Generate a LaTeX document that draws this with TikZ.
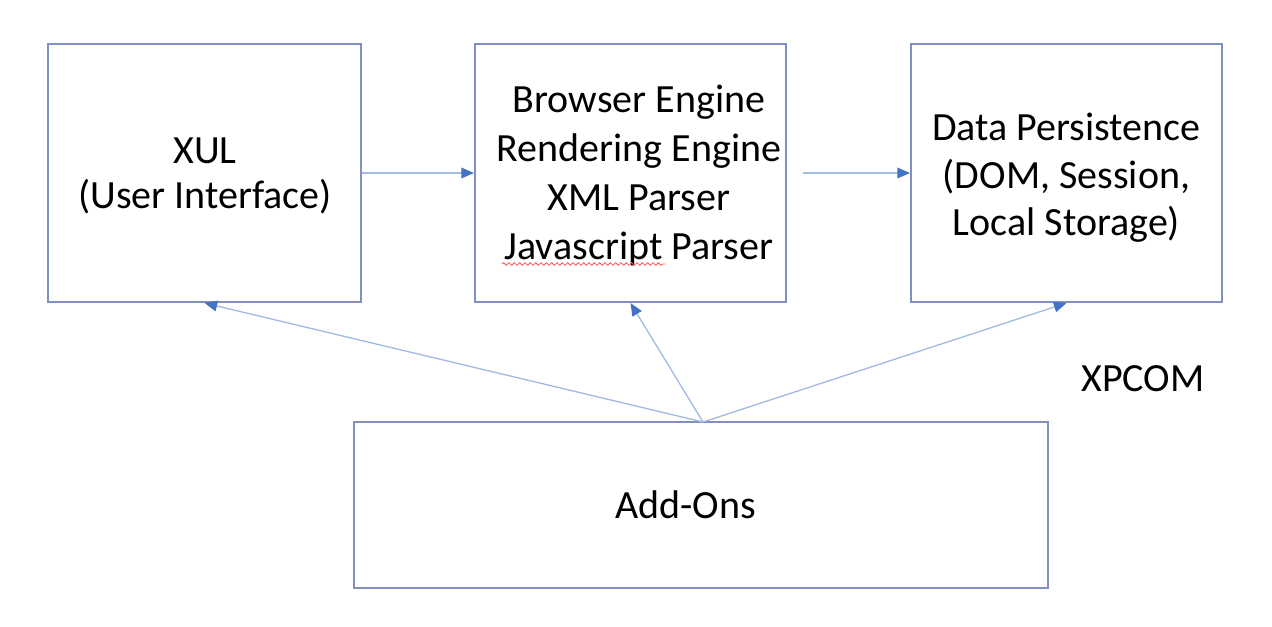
\documentclass[tikz,border=0pt]{standalone}
\usepackage{fontspec}
\setmainfont{Carlito}
\usetikzlibrary{arrows.meta,decorations.pathmorphing}
\definecolor{boxline}{HTML}{8190C0}
\definecolor{arrline}{HTML}{A3BAE4}
\definecolor{arrhead}{HTML}{4472C4}
\begin{document}
\begin{tikzpicture}[x=0.75pt,y=-0.75pt,
  box/.style={draw=boxline,line width=1.5pt,inner sep=0pt},
  conn/.style={draw=arrline,line width=1pt,
    -{Triangle[length=9.5pt,width=8pt,fill=arrhead,color=arrhead]}},
  lbl/.style={font=\fontsize{30}{36.75}\selectfont,text=black,inner sep=0pt,align=center}]
\useasboundingbox (0,0) rectangle (1272,626);
\node[box,minimum width=313*0.75pt,minimum height=258*0.75pt] (xul) at (204.5,173) {};
\node[lbl,font=\fontsize{30}{33.75}\selectfont] (xult) at (205,176) {XUL\\(User Interface)};
\node[box,minimum width=311*0.75pt,minimum height=258*0.75pt] (mid) at (630.5,173) {};
\node[lbl] (midt) at (639,175) {Browser Engine\\Rendering Engine\\XML Parser\\Javascript Parser};
\node[box,minimum width=311*0.75pt,minimum height=258*0.75pt] (data) at (1066.5,173) {};
\node[lbl,font=\fontsize{30}{35.5}\selectfont] (datat) at (1066.5,178) {Data Persistence\\(DOM, Session,\\Local Storage)};
\node[box,minimum width=694*0.75pt,minimum height=166*0.75pt] (add) at (701,505) {};
\node[lbl] (addt) at (685.5,505) {Add-Ons};
\node[lbl] (xpcom) at (1143,379) {XPCOM};
\coordinate (src) at (703,422);
\coordinate (m2) at (803,173);
\draw[conn] (xul.east) -- (mid.west);
\draw[conn] (m2) -- (data.west);
\draw[conn] (src) -- (xul.south);
\draw[conn] (src) -- (mid.south);
\draw[conn] (src) -- (data.south);
\coordinate (sq1) at (502,264);
\coordinate (sq2) at (665,264);
\draw[red!70,line width=0.6pt,decorate,decoration={snake,amplitude=1pt,segment length=4pt}] (sq1) -- (sq2);
\end{tikzpicture}
\end{document}
